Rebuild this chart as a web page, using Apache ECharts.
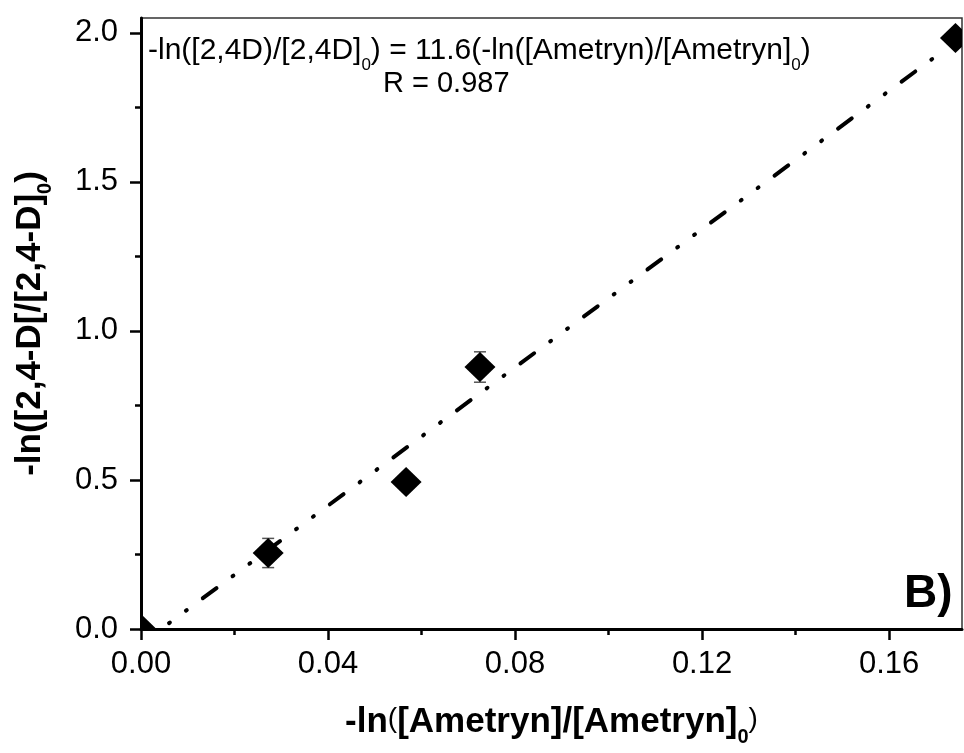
<!DOCTYPE html>
<html>
<head>
<meta charset="utf-8">
<script src="https://cdn.jsdelivr.net/npm/echarts@6/dist/echarts.min.js"></script>
<style>
  html, body { margin: 0; padding: 0; background: #fff; }
  #chart { width: 964px; height: 753px; }
</style>
</head>
<body>
<div id="chart"></div>
<script>
// Tick positions
const xTicks = [0, 0.04, 0.08, 0.12, 0.16];
const yTicks = [0, 0.5, 1.0, 1.5, 2.0];

// Measured points: -ln([Ametryn]/[Ametryn]0) vs -ln([2,4-D]/[2,4-D]0)
const ametrynLn = [0, 0.0272, 0.0567, 0.0725, 0.1742];
const dLn = [0, 0.255, 0.493, 0.879, 1.983];
const dErr = [0, 0.049, 0, 0.051, 0];

// Linear fit segment
const fitX = [0.006, 0.1703];
const fitY = [0.0196, 1.925];
const fitSlope = '11.6';
const fitR = '0.987';

const FONT = "'Liberation Sans', Arial, sans-serif";

const pointData = ametrynLn.map((x, i) => [x, dLn[i], dErr[i]]);
const fitData = fitX.map((x, i) => [x, fitY[i]]);

function renderPoint(params, api) {
  const x = api.value(0), y = api.value(1), e = api.value(2);
  const c = api.coord([x, y]);
  const children = [];
  if (e > 0) {
    const t = api.coord([x, y + e]);
    const b = api.coord([x, y - e]);
    const s = { stroke: '#555', lineWidth: 1.5 };
    children.push({ type: 'line', shape: { x1: c[0], y1: t[1], x2: c[0], y2: b[1] }, style: s });
    children.push({ type: 'line', shape: { x1: c[0] - 6, y1: t[1], x2: c[0] + 6, y2: t[1] }, style: s });
    children.push({ type: 'line', shape: { x1: c[0] - 6, y1: b[1], x2: c[0] + 6, y2: b[1] }, style: s });
  }
  children.push({
    type: 'polygon',
    shape: { points: [[c[0], c[1] - 15], [c[0] + 15.5, c[1]], [c[0], c[1] + 15], [c[0] - 15.5, c[1]]] },
    style: { fill: '#000' }
  });
  return { type: 'group', children };
}

const nameRich = {
  a: { fontSize: 35, fontWeight: 'bold', fontFamily: FONT, color: '#000', lineHeight: 38, verticalAlign: 'top' },
  p: { fontSize: 28, fontWeight: 'normal', fontFamily: FONT, color: '#000', lineHeight: 38, verticalAlign: 'top' },
  s: { fontSize: 20, fontWeight: 'bold', fontFamily: FONT, color: '#000', lineHeight: 20, verticalAlign: 'top', padding: [22, 0, 0, 0] }
};

const chart = echarts.init(document.getElementById('chart'), null, { renderer: 'canvas' });
chart.setOption({
  animation: false,
  backgroundColor: '#fff',
  grid: {
    left: 141, right: 2, top: 18, bottom: 124,
    show: true, borderColor: '#333', borderWidth: 1.5, backgroundColor: 'transparent'
  },
  xAxis: {
    type: 'value', min: 0, max: 0.1756, interval: 0.04,
    name: '{a|-ln}{p|(}{a|[Ametryn]/[Ametryn]}{s|0}{p|)}',
    nameLocation: 'middle', nameGap: 76,
    nameTextStyle: { rich: nameRich },
    axisLine: { show: true, onZero: false, lineStyle: { color: '#000', width: 3 } },
    axisTick: { show: true, length: 11, customValues: xTicks, lineStyle: { color: '#000', width: 2.5 } },
    minorTick: { show: true, splitNumber: 2, length: 6, lineStyle: { color: '#000', width: 2.5 } },
    axisLabel: {
      customValues: xTicks, margin: 20, fontSize: 31, fontFamily: FONT, color: '#000',
      formatter: v => v.toFixed(2)
    },
    splitLine: { show: false }
  },
  yAxis: {
    type: 'value', min: 0, max: 2.05, interval: 0.5,
    name: '{a|-ln([2,4-D[/[2,4-D]}{s|0}{a|)}',
    nameLocation: 'middle', nameGap: 90,
    nameTextStyle: { rich: nameRich },
    axisLine: { show: true, onZero: false, lineStyle: { color: '#000', width: 3 } },
    axisTick: { show: true, length: 11, customValues: yTicks, lineStyle: { color: '#000', width: 2.5 } },
    minorTick: { show: true, splitNumber: 2, length: 6, lineStyle: { color: '#000', width: 2.5 } },
    axisLabel: {
      customValues: yTicks, margin: 23, fontSize: 31, fontFamily: FONT, color: '#000',
      formatter: v => v.toFixed(1)
    },
    splitLine: { show: false }
  },
  series: [
    {
      type: 'line',
      data: fitData,
      showSymbol: false,
      symbol: 'none',
      z: 2,
      lineStyle: { color: '#000', width: 4, type: [1, 20, 1, 20, 17, 20], cap: 'round' }
    },
    {
      type: 'custom',
      data: pointData,
      renderItem: renderPoint,
      clip: true,
      z: 3
    }
  ],
  graphic: [
    {
      type: 'text', left: 148, top: 36, z: 10,
      style: {
        text: '{a|-ln([2,4D)/[2,4D]}{s|0}{a|) = ' + fitSlope + '(-ln([Ametryn)/[Ametryn]}{s|0}{a|)}',
        rich: {
          a: { fontSize: 30, fontFamily: FONT, fill: '#000', lineHeight: 30, verticalAlign: 'top' },
          s: { fontSize: 17, fontFamily: FONT, fill: '#000', lineHeight: 17, verticalAlign: 'top', padding: [21, 0, 0, 0] }
        }
      }
    },
    {
      type: 'text', left: 383, top: 69, z: 10,
      style: { text: 'R = ' + fitR, fontSize: 29, fontFamily: FONT, fill: '#000', lineHeight: 30 }
    },
    {
      type: 'text', left: 904, top: 571, z: 10,
      style: { text: 'B)', fontSize: 46, fontWeight: 'bold', fontFamily: FONT, fill: '#000', lineHeight: 46 }
    }
  ]
});
</script>
</body>
</html>
